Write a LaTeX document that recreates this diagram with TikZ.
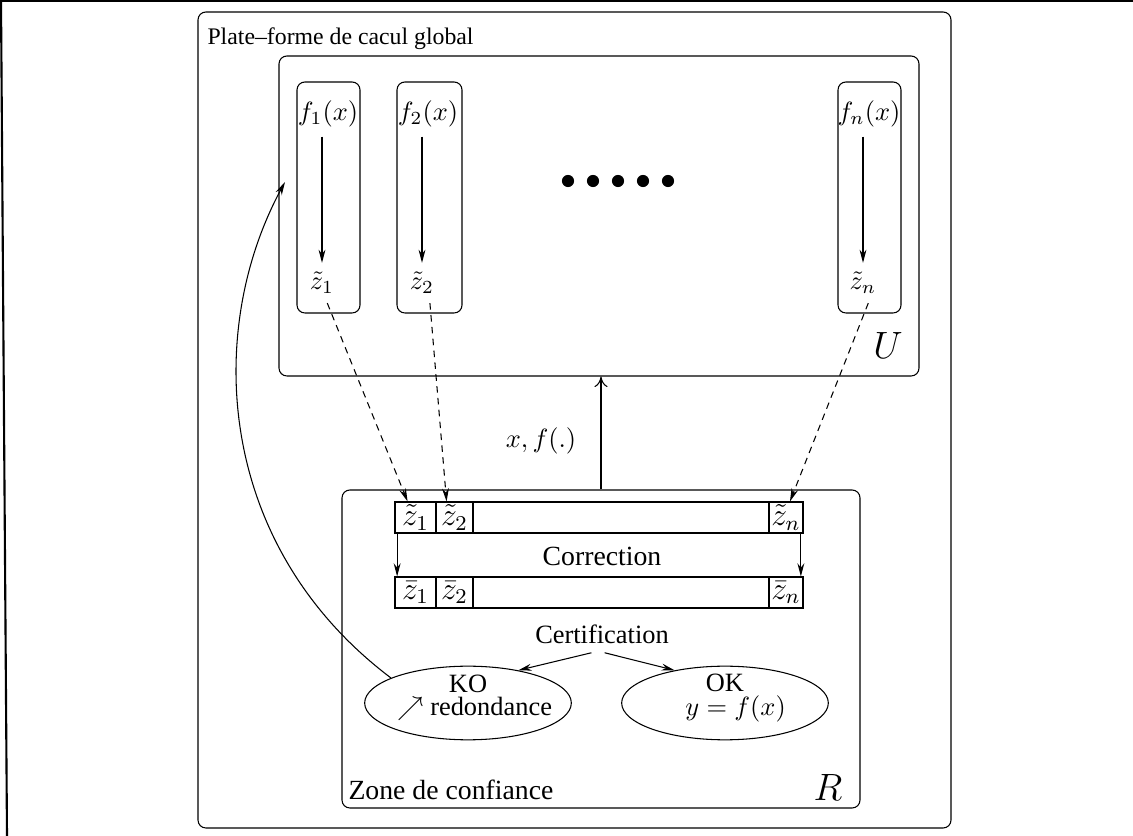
\documentclass[tikz,border=0pt]{standalone}
\usepackage[no-math]{fontspec}
\setmainfont{Liberation Serif}
\usepackage{tikz}
\usetikzlibrary{positioning,fit}
\usetikzlibrary{shapes.geometric, arrows.meta}
\tikzstyle{box} = [rectangle, rounded corners=3pt, draw=black, inner sep=0pt]
\tikzstyle{cell} = [rectangle, draw=black, inner sep=0pt, minimum height=0.412cm, font=\large]
\tikzstyle{oval} = [ellipse, draw=black, minimum width=2.75cm, minimum height=0.98cm, inner sep=0pt]
\tikzstyle{arrow} = [->,>={Stealth[length=5pt,width=2.6pt]}]
\tikzstyle{dasharrow} = [arrow, dash pattern=on 2.5pt off 2pt]
\tikzstyle{openarrow} = [->,>={To[length=4pt,width=5pt]}]

\begin{document}
\begin{tikzpicture}[x=0.0133cm, y=-0.0133cm]

	\useasboundingbox (0,0) rectangle (1133,836);
	\draw [line width=0.8pt] (0,1) -- (1133,1);
	\draw [line width=0.8pt] (1,0) -- (7,836);

	\node (plate) [box, fit={(198,12) (951,828)}] {};
	\node (platelbl) [anchor=base west, inner sep=0pt, font=\small] at (207,45) {Plate--forme de cacul global};

	\node (U) [box, fit={(279,56) (919,376)}] {};
	\node (ulbl) at (888,346) {\Large $U$};

	\node (F1) [box, fit={(297,82) (360,313)}] {};
	\node (F2) [box, fit={(397,82) (462,313)}] {};
	\node (Fn) [box, fit={(838,82) (901,313)}] {};
	\node (f1) at (328,114) {$f_1(x)$};
	\node (f2) at (428,114) {$f_2(x)$};
	\node (fn) at (869,114) {$f_n(x)$};
	\node (zt1) at (322,283) {$\tilde{z}_1$};
	\node (zt2) at (422,283) {$\tilde{z}_2$};
	\node (ztn) at (863,283) {$\tilde{z}_n$};
	\draw [arrow] (zt1 |- f1.south) -- (zt1);
	\draw [arrow] (zt2 |- f2.south) -- (zt2);
	\draw [arrow] (ztn |- fn.south) -- (ztn);

	\foreach \i in {0,...,4}
		\fill (568+25*\i,181) circle [radius=2.3pt];

	\node (R) [box, fit={(342,490) (860,808)}] {};
	\node (rlbl) at (828,788) {\Large $R$};
	\node (zone) [anchor=base west, inner sep=0pt, font=\fontsize{10.5}{12}\selectfont] at (348,800) {Zone de confiance};

	\foreach \r/\yc/\ac in {t/517.5/\tilde, b/592.5/\bar} {
		\node (\r1) [cell, minimum width=0.545cm] at (415.5,\yc) {$\ac{z}_1$};
		\node (\r2) [cell, minimum width=0.492cm] at (454.5,\yc) {$\ac{z}_2$};
		\node (\r-m) [cell, minimum width=3.937cm] at (621,\yc) {};
		\node (\r-n) [cell, minimum width=0.452cm] at (786,\yc) {$\ac{z}_n$};
	}
	\node (corr) [font=\fontsize{10.5}{12}\selectfont] at (602,556) {Correction};
	\draw [arrow] ([xshift=1pt]t1.south west) -- ([xshift=1pt]b1.north west);
	\draw [arrow] ([xshift=-1pt]t-n.south east) -- ([xshift=-1pt]b-n.north east);

	\draw [dasharrow] ([xshift=2pt]zt1.south) -- ([xshift=-3pt]t1.north);
	\draw [dasharrow] ([xshift=3pt]zt2.south) -- ([xshift=-3pt]t2.north);
	\draw [dasharrow] ([xshift=2pt]ztn.south) -- ([xshift=1.5pt]t-n.north);

	\node (xf) at (541,441) {$x, f(.)$};
	\draw [openarrow] (R.north) -- (R.north |- U.south);

	\node (cert) at (602,634) {Certification};
	\node (KO) [oval, label={[align=center, yshift=2pt]center:KO\\[-3pt]\hspace*{5pt}$\nearrow$\ redondance}] at (468,703) {};
	\node (OK) [oval, label={[align=center, yshift=2pt]center:OK\\[-3pt]\hspace*{8pt}$y=f(x)$}] at (725,703) {};
	\draw [arrow] ([xshift=-4pt]cert.south) -- (KO.33);
	\draw [arrow] ([xshift=1pt]cert.south) -- (OK.147);

	\coordinate (back) at (285,182);
	\draw [arrow] (KO.162) .. controls (215,545) and (205,330) .. (back);

\end{tikzpicture}
\end{document}
